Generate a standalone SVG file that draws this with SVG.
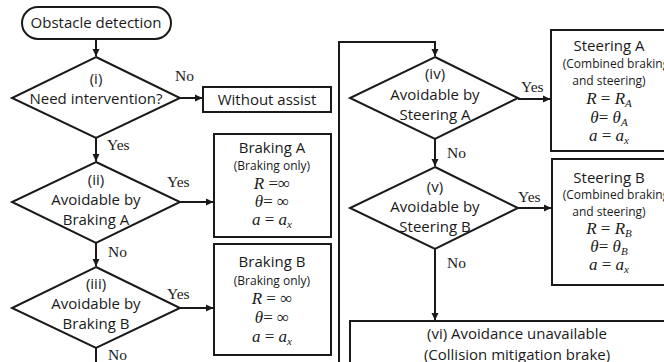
<svg xmlns="http://www.w3.org/2000/svg" width="664" height="362" viewBox="0 0 664 362">
<defs>
<marker id="ah" markerWidth="8" markerHeight="8" refX="7" refY="4" orient="auto" markerUnits="userSpaceOnUse">
<path d="M0,0.5 L7.5,4 L0,7.5 Z" fill="#1a1a1a"/>
</marker>
</defs>
<style>
.s{fill:none;stroke:#1a1a1a;stroke-width:2}
.b{fill:#fff;stroke:#1a1a1a;stroke-width:2}
.t{font-family:"Open Sans","Liberation Sans",sans-serif;font-size:15px;fill:#1a1a1a;text-anchor:middle}
.sm{font-family:"Open Sans","Liberation Sans",sans-serif;font-size:12px;fill:#1a1a1a;text-anchor:middle}
.l{font-family:"Liberation Serif","Times New Roman",serif;font-size:15.5px;fill:#1a1a1a}
.m{font-family:"Liberation Serif","Times New Roman",serif;font-size:17px;fill:#1a1a1a;text-anchor:middle}
.i{font-style:italic}
</style>
<rect width="664" height="362" fill="#fff"/>
<g id="connectors">
<line class="s" x1="96" y1="39" x2="96" y2="56" marker-end="url(#ah)"/>
<line class="s" x1="180" y1="98" x2="202" y2="98" marker-end="url(#ah)"/>
<line class="s" x1="96" y1="138" x2="96" y2="161" marker-end="url(#ah)"/>
<line class="s" x1="180" y1="202" x2="213" y2="202" marker-end="url(#ah)"/>
<line class="s" x1="96" y1="243" x2="96" y2="266" marker-end="url(#ah)"/>
<line class="s" x1="180" y1="308" x2="213" y2="308" marker-end="url(#ah)"/>
<line class="s" x1="96" y1="348" x2="96" y2="363"/>
<polyline class="s" points="339,363 339,42 435,42 435,56" marker-end="url(#ah)"/>
<line class="s" x1="518" y1="99" x2="550" y2="99" marker-end="url(#ah)"/>
<line class="s" x1="435" y1="139" x2="435" y2="166" marker-end="url(#ah)"/>
<line class="s" x1="518" y1="208" x2="551" y2="208" marker-end="url(#ah)"/>
<line class="s" x1="435" y1="249" x2="435" y2="320" marker-end="url(#ah)"/>
<text class="l" x="175" y="81">No</text>
<text class="l" x="107" y="150">Yes</text>
<text class="l" x="167" y="187">Yes</text>
<text class="l" x="108" y="257">No</text>
<text class="l" x="167" y="299">Yes</text>
<text class="l" x="108" y="360">No</text>
<text class="l" x="521" y="92">Yes</text>
<text class="l" x="447" y="158">No</text>
<text class="l" x="518" y="202">Yes</text>
<text class="l" x="447" y="268">No</text>
</g>
<g id="start">
<rect class="b" x="22" y="7" width="149" height="32" rx="16"/>
<text class="t" x="96" y="28">Obstacle detection</text>
</g>
<g id="d1">
<polygon class="b" points="96,57 180,98 96,138 12,98"/>
<text class="t" x="96" y="84">(i)</text>
<text class="t" x="96" y="104">Need intervention?</text>
</g>
<g id="without">
<rect class="b" x="203" y="87" width="128" height="25"/>
<text class="t" x="267" y="105">Without assist</text>
</g>
<g id="d2">
<polygon class="b" points="96,162 180,202 96,243 12,202"/>
<text class="t" x="96" y="185">(ii)</text>
<text class="t" x="96" y="205">Avoidable by</text>
<text class="t" x="96" y="225">Braking A</text>
</g>
<g id="brakingA">
<rect class="b" x="214" y="134" width="117" height="103"/>
<text class="t" x="272" y="153">Braking A</text>
<text class="sm" x="272" y="170">(Braking only)</text>
<text class="m" x="272" y="189"><tspan class="i">R</tspan> =∞</text>
<text class="m" x="272" y="207"><tspan class="i">θ</tspan>= ∞</text>
<text class="m" x="272" y="225"><tspan class="i">a</tspan> = <tspan class="i">a</tspan><tspan class="i" font-size="11" dy="3">x</tspan></text>
</g>
<g id="d3">
<polygon class="b" points="96,267 180,308 96,348 12,308"/>
<text class="t" x="96" y="289">(iii)</text>
<text class="t" x="96" y="309">Avoidable by</text>
<text class="t" x="96" y="329">Braking B</text>
</g>
<g id="brakingB">
<rect class="b" x="214" y="244" width="117" height="111"/>
<text class="t" x="272" y="267">Braking B</text>
<text class="sm" x="272" y="285">(Braking only)</text>
<text class="m" x="272" y="304"><tspan class="i">R</tspan> = ∞</text>
<text class="m" x="272" y="323"><tspan class="i">θ</tspan>= ∞</text>
<text class="m" x="272" y="342"><tspan class="i">a</tspan> = <tspan class="i">a</tspan><tspan class="i" font-size="11" dy="3">x</tspan></text>
</g>
<g id="d4">
<polygon class="b" points="435,57 518,98 435,139 350,98"/>
<text class="t" x="435" y="79">(iv)</text>
<text class="t" x="435" y="100">Avoidable by</text>
<text class="t" x="435" y="120">Steering A</text>
</g>
<g id="steeringA">
<rect class="b" x="551" y="30" width="120" height="121"/>
<text class="t" x="609" y="51">Steering A</text>
<text class="sm" x="616" y="68">(Combined braking</text>
<text class="sm" x="609" y="85">and steering)</text>
<text class="m" x="609" y="104"><tspan class="i">R</tspan> = <tspan class="i">R</tspan><tspan class="i" font-size="11" dy="3">A</tspan></text>
<text class="m" x="609" y="123"><tspan class="i">θ</tspan>= <tspan class="i">θ</tspan><tspan class="i" font-size="11" dy="3">A</tspan></text>
<text class="m" x="609" y="141"><tspan class="i">a</tspan> = <tspan class="i">a</tspan><tspan class="i" font-size="11" dy="3">x</tspan></text>
</g>
<g id="d5">
<polygon class="b" points="435,167 518,208 435,249 350,208"/>
<text class="t" x="435" y="192">(v)</text>
<text class="t" x="435" y="212">Avoidable by</text>
<text class="t" x="435" y="232">Steering B</text>
</g>
<g id="steeringB">
<rect class="b" x="552" y="159" width="120" height="126"/>
<text class="t" x="609" y="183">Steering B</text>
<text class="sm" x="616" y="199">(Combined braking</text>
<text class="sm" x="609" y="216">and steering)</text>
<text class="m" x="609" y="234"><tspan class="i">R</tspan> = <tspan class="i">R</tspan><tspan class="i" font-size="11" dy="3">B</tspan></text>
<text class="m" x="609" y="252"><tspan class="i">θ</tspan>= <tspan class="i">θ</tspan><tspan class="i" font-size="11" dy="3">B</tspan></text>
<text class="m" x="609" y="270"><tspan class="i">a</tspan> = <tspan class="i">a</tspan><tspan class="i" font-size="11" dy="3">x</tspan></text>
</g>
<g id="d6">
<rect class="b" x="350" y="321" width="330" height="60"/>
<text class="t" x="517" y="339" font-size="16">(vi) Avoidance unavailable</text>
<text class="t" x="517" y="360" font-size="16">(Collision mitigation brake)</text>
</g>
</svg>
